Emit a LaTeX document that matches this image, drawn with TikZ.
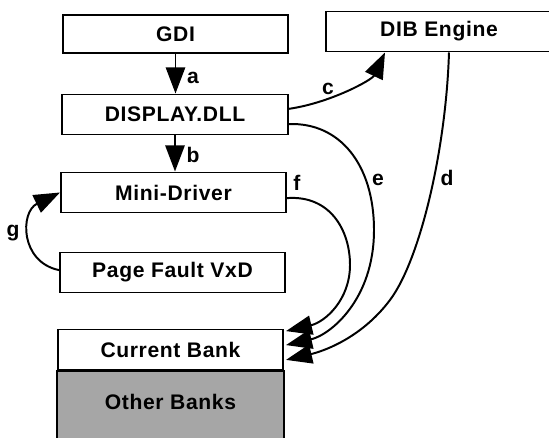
\documentclass[tikz,border=0pt]{standalone}
\usepackage{fontspec}
\setmainfont{Liberation Sans}[LetterSpace=3]
\usetikzlibrary{arrows.meta}
\begin{document}
\begin{tikzpicture}[x=0.025cm,y=-0.025cm,
  box/.style={draw,line width=1.4pt,minimum width=5.625cm,minimum height=1cm,inner sep=0pt,
    font=\fontsize{15}{17}\selectfont\bfseries},
  lbl/.style={inner sep=0pt,font=\fontsize{15}{17}\selectfont\bfseries},
  flow/.style={line width=1.4pt,-{Triangle[length=0.65cm,width=0.48cm]}},
  banks/.style={fill=black!35}]
\useasboundingbox (0,0) rectangle (549,438);
\node[box,minimum height=0.95cm] (gdi) at (175.5,34) {GDI};
\node[box] (display) at (175,114.5) {DISPLAY.DLL};
\node[box,minimum width=5.65cm] (dib) at (439,31.5) {DIB Engine};
\node[box] (mini) at (173.5,192.5) {Mini-Driver};
\node[box] (pagefault) at (172.5,272.5) {Page Fault VxD};
\node[box] (current) at (170.5,349.5) {Current Bank};
\fill[banks] (current.south west) rectangle (current.south east |- 0,438);
\draw[line width=1.4pt] (current.south west) -- (current.south west |- 0,438);
\draw[line width=1.4pt] (current.south east) -- (current.south east |- 0,438);
\draw[line width=2.6pt] (current.south west) -- (current.south east);
\node[lbl] (other) at (170.5,402) {Other Banks};
\draw[flow] (gdi.south) -- (gdi.south |- display.north);
\node[lbl] (la) at (193,78) {a};
\draw[flow] (display.south) -- (display.south |- mini.north);
\node[lbl] (lb) at (193,155) {b};
\draw[flow] ([yshift=0.14cm]display.east) .. controls (330,103) and (372,80) .. ([xshift=1.5cm]dib.south west);
\node[lbl] (lc) at (328,89) {c};
\draw[flow] ([yshift=-0.24cm]display.east) .. controls (340,122) and (374,165) .. (374,230)
  .. controls (374,300) and (330,335) .. ([xshift=0.05cm,yshift=0.11cm]current.east);
\node[lbl] (le) at (378,180) {e};
\draw[flow] (dib.south -| 449,0) .. controls (446,150) and (420,260) .. (390,300)
  .. controls (360,340) and (320,352) .. ([xshift=0.05cm,yshift=-0.26cm]current.east);
\node[lbl] (ld) at (447,178) {d};
\draw[flow] ([yshift=-0.14cm]mini.east) .. controls (330,195) and (350,230) .. (350,265)
  .. controls (350,300) and (325,322) .. ([xshift=0.05cm,yshift=0.46cm]current.east);
\node[lbl] (lf) at (297,183) {f};
\draw[flow] ([yshift=0.06cm]pagefault.west) .. controls (20,262) and (20,212) .. (mini.west);
\node[lbl] (lg) at (13,233) {g};
\end{tikzpicture}
\end{document}
